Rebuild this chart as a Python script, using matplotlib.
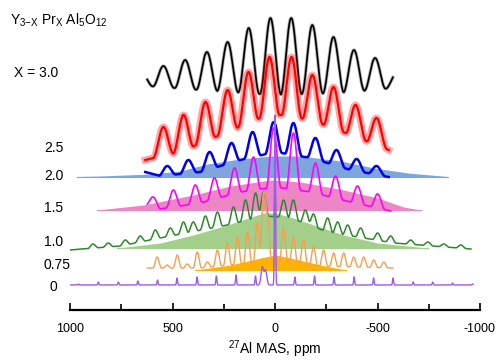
import matplotlib.pyplot as plt
import numpy as np

plt.rcParams['font.family'] = ['Liberation Sans', 'DejaVu Sans']
plt.rcParams['mathtext.fontset'] = 'custom'
plt.rcParams['mathtext.rm'] = 'Liberation Sans'
plt.rcParams['mathtext.it'] = 'Liberation Sans'
plt.rcParams['axes.unicode_minus'] = False

# ---- spectra: ppm positions, trough (base) and peak-top levels ----
# X = 3.0 (black)
black_range = (623, -575)
black_base_ppm = [623, 364, 0, -320, -575]
black_base_y = [224, 220, 215, 217, 222]
black_top_ppm = [648, 544, 438, 332, 231, 128, 22, -79, -182, -285, -385, -488, -592]
black_top_y = [236, 244, 250, 258, 268, 282, 292, 292, 285, 273, 260, 252, 236]

# X = 2.5 (red)
red_range = (633, -555)
red_base_ppm = [633, 462, 267, 71, -27, -174, -369, -555]
red_base_y = [150, 158, 175, 192, 195, 190, 175, 160]
red_top_ppm = [545, 447, 340, 232, 130, 27, -81, -183, -286, -394, -496]
red_top_y = [183, 195, 208, 220, 238, 253, 253, 235, 223, 205, 192]

# X = 2.0 (blue)
blue_range = (633, -555)
blue_base_ppm = [633, 560, 364, 169, -2, -174, -369, -555]
blue_base_y = [138, 134, 138, 150, 158, 152, 140, 133]
blue_top_ppm = [526, 423, 320, 213, 110, 7, -90, -198, -301, -399, -496]
blue_top_y = [144, 150, 158, 167, 178, 188, 187, 172, 160, 151, 144]
blue_fill_base = 133
blue_fill_ppm = [966, 853, 609, 462, 330, 169, 22, -125, -320, -482, -648, -844]
blue_fill_h = [0.5, 1, 3, 6, 13, 18, 21, 21, 16, 9, 4, 0.5]

# X = 1.5 (magenta)
mag_range = (623, -565)
mag_base_ppm = [623, 560, 364, 169, -2, -174, -369, -565]
mag_base_y = [105, 101, 107, 118, 123, 118, 108, 99]
mag_top_ppm = [594, 496, 389, 296, 198, 105, 7, -90, -198, -296, -403, -501]
mag_top_y = [113, 120, 125, 132, 142, 153, 182, 177, 147, 134, 124, 116]
mag_fill_base = 100
mag_fill_ppm = [868, 643, 399, 218, 22, -125, -335, -501, -628, -711]
mag_fill_h = [0, 5, 15, 24, 30, 28, 20, 12, 3, 0]

# X = 1.0 (green)
green_range = (1000, -956)
green_base_ppm = [1000, 755, 560, 232, 46, -76, -257, -579, -956]
green_base_y = [60, 64, 72, 85, 94, 92, 78, 67, 61]
green_top_ppm = [888, 814, 731, 658, 584, 511, 447, 399, 340, 281, 203, 144, 95, 56,
                 0, -42, -90, -149, -188, -257, -306, -355, -418, -501, -565, -662,
                 -746, -824, -907]
green_top_y = [66, 67, 70, 74, 80, 82, 88, 88, 94, 98, 103, 110, 117, 118,
               125, 110, 110, 100, 96, 92, 88, 85, 82, 77, 74, 70,
               68, 66, 65]
green_fill_base = 62
green_fill_ppm = [770, 560, 399, 232, 56, -2, -90, -335, -501, -746]
green_fill_h = [0, 5, 13, 23, 35, 35, 30, 13, 5, 0]

# X = 0.75 (orange)
orange_range = (623, -575)
orange_base_ppm = [623, 364, 169, 46, -51, -222, -575]
orange_base_y = [42, 42, 46, 50, 48, 44, 42]
orange_top_ppm = [575, 526, 477, 428, 379, 330, 281, 232, 183, 134, 86, 56, 37, 0,
                  -42, -90, -139, -188, -237, -286, -335, -384, -433, -482, -531]
orange_top_y = [53, 45, 55, 46, 58, 48, 60, 67, 73, 78, 88, 117, 95, 110,
                82, 73, 70, 63, 60, 57, 57, 53, 53, 50, 48]
orange_fill_base = 40
orange_fill_ppm = [389, 218, 71, -2, -76, -222, -345]
orange_fill_h = [0, 5, 12, 15, 12, 5, 0]

# X = 0 (violet)
violet_range = (1000, -966)
violet_base = 25
violet_top_ppm = [959, 862, 764, 669, 573, 478, 380, 286, 190, 95, 62, 46, 0,
                  -97, -193, -288, -386, -481, -576, -674, -769, -866, -964]
violet_top_h = [1, 3, 3, 4, 5, 7, 8, 9, 10, 9, 18, 15, 170,
                8, 9, 8, 8, 7, 7, 3, 3, 2, 1]

labels = ['X = 3.0', '2.5', '2.0', '1.5', '1.0', '0.75', '0']


def interp(x, xp, fp):
    # ppm axes run downwards, np.interp wants increasing xp
    return np.interp(-np.asarray(x), -np.asarray(xp, float), np.asarray(fp, float))


def trace(rng, base_ppm, base_y, top_ppm, top_y, half):
    """Trough line plus one raised-cosine bump per spinning sideband."""
    x = np.linspace(rng[0], rng[1], 4000)
    y = interp(x, base_ppm, base_y)
    for p, t in zip(top_ppm, top_y):
        amp = t - interp(p, base_ppm, base_y)
        hw = 4.0 if p == 0 else half
        u = np.clip((x - p) / hw, -1, 1)
        y = y + amp * np.cos(np.pi / 2 * u) ** 2
    return x, y


fig = plt.figure(figsize=(4.97, 3.62), dpi=100)
ax = fig.add_axes([70 / 497, 1 - 310 / 362, 410 / 497, 310 / 362])

# filled components
for ppm, h, base, color in [
    (blue_fill_ppm, blue_fill_h, blue_fill_base, '#7ea6dd'),
    (mag_fill_ppm, mag_fill_h, mag_fill_base, '#ec86c4'),
    (green_fill_ppm, green_fill_h, green_fill_base, '#a2cf8a'),
    (orange_fill_ppm, orange_fill_h, orange_fill_base, '#ffb300'),
]:
    xf = np.linspace(ppm[0], ppm[-1], 600)
    hf = interp(xf, ppm, h)
    ax.fill_between(xf, base, base + hf, color=color, lw=0)
    ax.plot(xf, np.full_like(xf, base + 0.3), color=color, lw=0.8)

# black
x, y = trace(black_range, black_base_ppm, black_base_y, black_top_ppm, black_top_y, 52)
ax.plot(x, y, color='black', lw=2.4, alpha=0.3)
ax.plot(x, y, color='black', lw=1.2)

# red (noisy trace in the original)
x, y = trace(red_range, red_base_ppm, red_base_y, red_top_ppm, red_top_y, 50)
ax.plot(x, y, color='#ff0000', lw=5.0, alpha=0.35)
ax.plot(x, y, color='#ff0000', lw=1.6)

# blue
x, y = trace(blue_range, blue_base_ppm, blue_base_y, blue_top_ppm, blue_top_y, 42)
ax.plot(x, y, color='#0000ee', lw=1.8)

# magenta
x, y = trace(mag_range, mag_base_ppm, mag_base_y, mag_top_ppm, mag_top_y, 36)
ax.plot(x, y, color='#ff00ff', lw=1.2)

# green
x, y = trace(green_range, green_base_ppm, green_base_y, green_top_ppm, green_top_y, 26)
ax.plot(x, y, color='#2a8a2a', lw=1.1)

# orange
x, y = trace(orange_range, orange_base_ppm, orange_base_y, orange_top_ppm, orange_top_y, 20)
ax.plot(x, y, color='#f5a050', lw=1.0)

# violet
x = np.linspace(violet_range[0], violet_range[1], 8000)
y = np.full_like(x, violet_base, dtype=float)
for p, h in zip(violet_top_ppm, violet_top_h):
    w = 6.0 if p in (62, 46) else 2.5
    y = y + h * np.exp(-0.5 * ((x - p) / w) ** 2)
ax.plot(x, y, color='#9a5cf0', lw=1.0)

ax.set_xlim(1000, -1000)
ax.set_ylim(0, 310)
for s in ['top', 'right', 'left']:
    ax.spines[s].set_visible(False)
ax.spines['bottom'].set_linewidth(1.6)
ax.set_yticks([])
ax.set_xticks([1000, 500, 0, -500, -1000])
ax.set_xticks([750, 250, -250, -750], minor=True)
ax.tick_params(axis='x', direction='in', length=5, width=1.2, labelsize=9, pad=9)
ax.tick_params(axis='x', which='minor', direction='in', length=4, width=1.2)
ax.set_xlabel('$^{27}$Al MAS, ppm', fontsize=10, labelpad=3)

# composition labels
fig.text(10 / 497, 1 - 20 / 362, 'Y$_{3\\mathrm{-}X}$ Pr$_X$ Al$_5$O$_{12}$',
         fontsize=10, va='center', ha='left')
for lab, py, px in zip(labels, [73, 148, 176, 208, 242, 265, 287],
                       [14, 44, 44, 44, 44, 44, 50]):
    fig.text(px / 497, 1 - py / 362, lab, fontsize=10, va='center', ha='left')

fig.savefig('out.png', dpi=100)
